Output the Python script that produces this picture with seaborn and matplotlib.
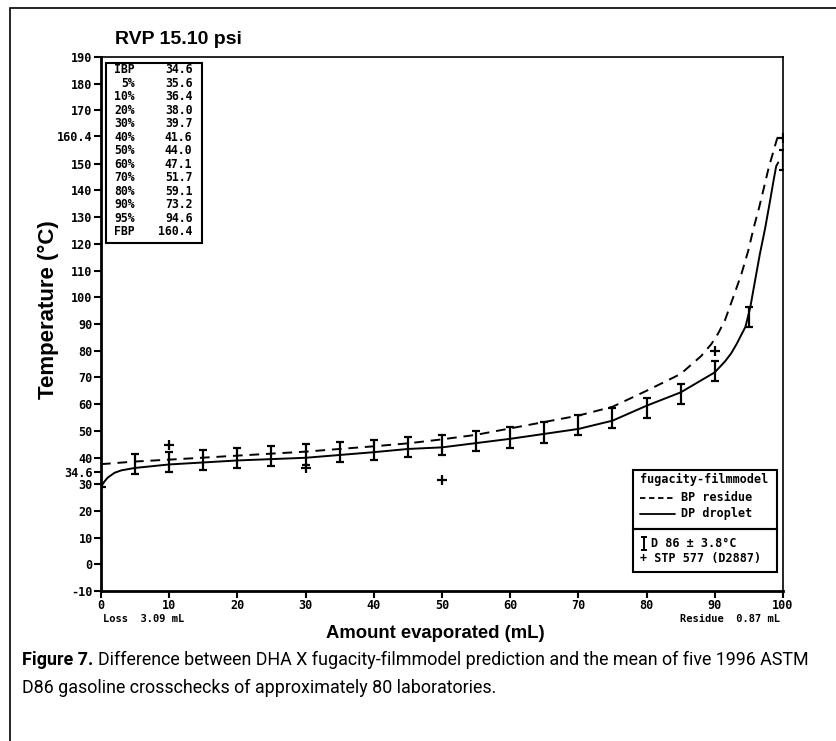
import matplotlib
matplotlib.use("Agg")
import matplotlib.pyplot as plt
from matplotlib.patches import Rectangle
import numpy as np
import pandas as pd
import seaborn as sns

# distillation table (top-left box)
table_labels = ["IBP", "5%", "10%", "20%", "30%", "40%", "50%", "60%",
                "70%", "80%", "90%", "95%", "FBP"]
table_values = ["34.6", "35.6", "36.4", "38.0", "39.7", "41.6", "44.0",
                "47.1", "51.7", "59.1", "73.2", "94.6", "160.4"]

# D86 crosscheck means with +-3.8 C bars
d86_x = [5, 10, 15, 20, 25, 30, 35, 40, 45, 50, 55, 60, 65, 70, 75,
         80, 85, 90, 95, 100]
d86_y = [37.5, 38.2, 39.2, 39.9, 40.6, 41.1, 42.0, 42.9, 44.0, 44.8, 46.1,
         47.5, 49.4, 52.2, 54.7, 58.6, 63.9, 72.4, 92.7, 151.3]
d86_err = 3.8

# STP 577 (D2887) points
stp_x = [0, 10, 30, 50, 90, 100]
stp_y = [29.0, 44.6, 35.9, 31.5, 80.0, 159.7]

# fugacity-filmmodel: BP residue (dashed)
bp_x = [0, 5, 10, 20, 30, 40, 45, 50, 55, 60, 70, 75, 80, 85, 88, 89.5,
        90.5, 91.5, 92.7, 93.9, 94.9, 95.7, 96.5, 97.2, 97.9, 98.6, 99.1,
        99.3, 100]
bp_y = [37.5, 38.5, 39.2, 40.7, 42.2, 44.2, 45.3, 46.8, 48.5, 50.9, 55.7,
        59.0, 65.0, 71.3, 78.0, 82.5, 86.5, 91.5, 100.0, 108.7, 117.4, 126.0,
        133.6, 141.0, 148.5, 154.7, 159.1, 160.4, 160.4]

# fugacity-filmmodel: DP droplet (solid)
dp_x = [0, 0, 0.5, 1, 2, 3, 5, 10, 20, 30, 40, 45, 50, 60, 70, 75, 80,
        85, 90, 91.5, 92.4, 93.2, 94.5, 95.2, 95.9, 96.6, 97.4, 98.1, 98.6,
        99.0, 99.3]
dp_y = [22.0, 29.0, 31.0, 32.5, 34.3, 35.2, 36.1, 37.4, 38.9, 39.9, 42.0,
        43.2, 43.8, 47.0, 50.7, 53.8, 59.4, 64.4, 71.9, 76.0, 79.0, 82.5,
        89.0, 96.2, 106.2, 116.1, 126.1, 136.1, 143.5, 149.1, 150.5]

mono = "DejaVu Sans Mono"


def draw():
    sns.set_style("ticks")
    plt.rcParams["font.family"] = ["Liberation Sans", "DejaVu Sans"]
    for key in ["text.color", "axes.labelcolor", "xtick.color", "ytick.color",
                "axes.edgecolor"]:
        plt.rcParams[key] = "black"

    fig = plt.figure(figsize=(8.36, 7.41), dpi=100)
    ax = fig.add_axes([0.1208, 0.2024, 0.8158, 0.7207])

    bp = pd.DataFrame({"x": bp_x, "y": bp_y})
    dp = pd.DataFrame({"x": dp_x, "y": dp_y})
    stp = pd.DataFrame({"x": stp_x, "y": stp_y})

    sns.lineplot(data=bp, x="x", y="y", ax=ax, color="black", lw=1.4,
                 sort=False, estimator=None)
    ax.lines[-1].set_dashes((5, 3.5))
    sns.lineplot(data=dp, x="x", y="y", ax=ax, color="black", lw=1.4,
                 sort=False, estimator=None)
    ax.errorbar(d86_x, d86_y, yerr=d86_err, fmt="none", ecolor="black",
                elinewidth=1.6, capsize=3.2, capthick=1.6, zorder=3)
    sns.scatterplot(data=stp, x="x", y="y", ax=ax, marker="+", s=45,
                    color="black", linewidth=1.6, zorder=4)

    ax.set_xlim(0, 100)
    ax.set_ylim(-10, 190)
    ax.set_xticks(range(0, 101, 10))
    yt = [v for v in range(-10, 191, 10) if v != 160] + [34.6, 160.4]
    ax.set_yticks(yt)
    ax.set_yticklabels([("%g" % v) for v in yt])
    for lab in ax.get_xticklabels() + ax.get_yticklabels():
        lab.set_fontfamily(mono)
        lab.set_fontweight("bold")
        lab.set_fontsize(8.5)
    ax.tick_params(direction="out", length=5, width=1.5, pad=1)
    for sp in ax.spines.values():
        sp.set_linewidth(1.2)
    ax.spines["left"].set_linewidth(2)
    ax.spines["bottom"].set_linewidth(2)
    ax.set_xlabel("")
    ax.set_ylabel("")

    # distillation table box
    ax.add_patch(Rectangle((0.73, 120.5), 14.1, 67.3, fill=False,
                           lw=1.5, ec="black", zorder=5))
    for i, (lab, val) in enumerate(zip(table_labels, table_values)):
        yy = 185.2 - i * 5.05
        ax.text(5.0, yy, lab, ha="right", va="center", family=mono,
                weight="bold", fontsize=8.3)
        ax.text(13.4, yy, val, ha="right", va="center", family=mono,
                weight="bold", fontsize=8.3)

    # legend boxes
    ax.add_patch(Rectangle((78.0, 13.4), 21.1, 22.1, fill=False, lw=1.5,
                           ec="black", zorder=5))
    ax.add_patch(Rectangle((78.0, -3.0), 21.1, 16.4, fill=False, lw=1.5,
                           ec="black", zorder=5))
    ax.text(79.0, 31.6, "fugacity-filmmodel", ha="left", va="center",
            family=mono, weight="bold", fontsize=8.5)
    ax.plot([79.0, 84.2], [25.0, 25.0], color="black", lw=1.3,
            dashes=(3, 2))
    ax.text(85.0, 25.0, "BP residue", ha="left", va="center",
            family=mono, weight="bold", fontsize=8.5)
    ax.plot([79.0, 84.2], [19.0, 19.0], color="black", lw=1.3)
    ax.text(85.0, 19.0, "DP droplet", ha="left", va="center",
            family=mono, weight="bold", fontsize=8.5)
    ax.errorbar([79.6], [7.8], yerr=[2.4], fmt="none", ecolor="black",
                elinewidth=1.4, capsize=2.5, capthick=1.4, clip_on=False)
    ax.text(80.6, 7.8, "D 86 \u00b1 3.8\u00b0C", ha="left", va="center",
            family=mono, weight="bold", fontsize=8.5)
    ax.text(79.0, 2.2, "+ STP 577 (D2887)", ha="left", va="center",
            family=mono, weight="bold", fontsize=8.5)

    # title and axis labels
    fig.text(115 / 836, 1 - 40 / 741, "RVP 15.10 psi", ha="left",
             va="center", weight="bold", fontsize=14)
    fig.text(48 / 836, 1 - 310 / 741, "Temperature (\u00b0C)", ha="center",
             va="center", rotation=90, weight="bold", fontsize=16)
    fig.text(435 / 836, 1 - 633 / 741, "Amount evaporated (mL)",
             ha="center", va="center", weight="bold", fontsize=13.3)
    fig.text(103 / 836, 1 - 619 / 741, "Loss  3.09 mL", ha="left",
             va="center", family=mono, weight="bold", fontsize=7.5)
    fig.text(780 / 836, 1 - 619 / 741, "Residue  0.87 mL", ha="right",
             va="center", family=mono, weight="bold", fontsize=7.5)

    # caption, sized so the first line runs to about x = 810 px
    cap_font = ["Roboto", "DejaVu Sans"]
    size = 12.5
    t1 = fig.text(22 / 836, 1 - 660 / 741, "Figure 7.", ha="left",
                  va="center", weight="bold", fontsize=size, family=cap_font)
    t2 = fig.text(0, 1 - 660 / 741,
                  "Difference between DHA X fugacity-filmmodel prediction "
                  "and the mean of five 1996 ASTM", ha="left", va="center",
                  fontsize=size, family=cap_font)
    t3 = fig.text(22 / 836, 1 - 688 / 741,
                  "D86 gasoline crosschecks of approximately 80 laboratories.",
                  ha="left", va="center", fontsize=size, family=cap_font)
    r = fig.canvas.get_renderer()
    w1 = t1.get_window_extent(r).width
    w2 = t2.get_window_extent(r).width
    size = size * (810 - 22 - 5) / (w1 + w2)
    for t in (t1, t2, t3):
        t.set_fontsize(size)
    w1 = t1.get_window_extent(r).width
    t2.set_x((22 + w1 + 5) / 836)

    # outer frame (cut off at right and bottom)
    fig.patches.append(Rectangle((10 / 836, -0.05), 1.1, 1 - 8 / 741 + 0.05,
                                 transform=fig.transFigure, fill=False,
                                 lw=1.2, ec="black"))

    plt.savefig("out.png", dpi=100)


if __name__ == "__main__":
    draw()
